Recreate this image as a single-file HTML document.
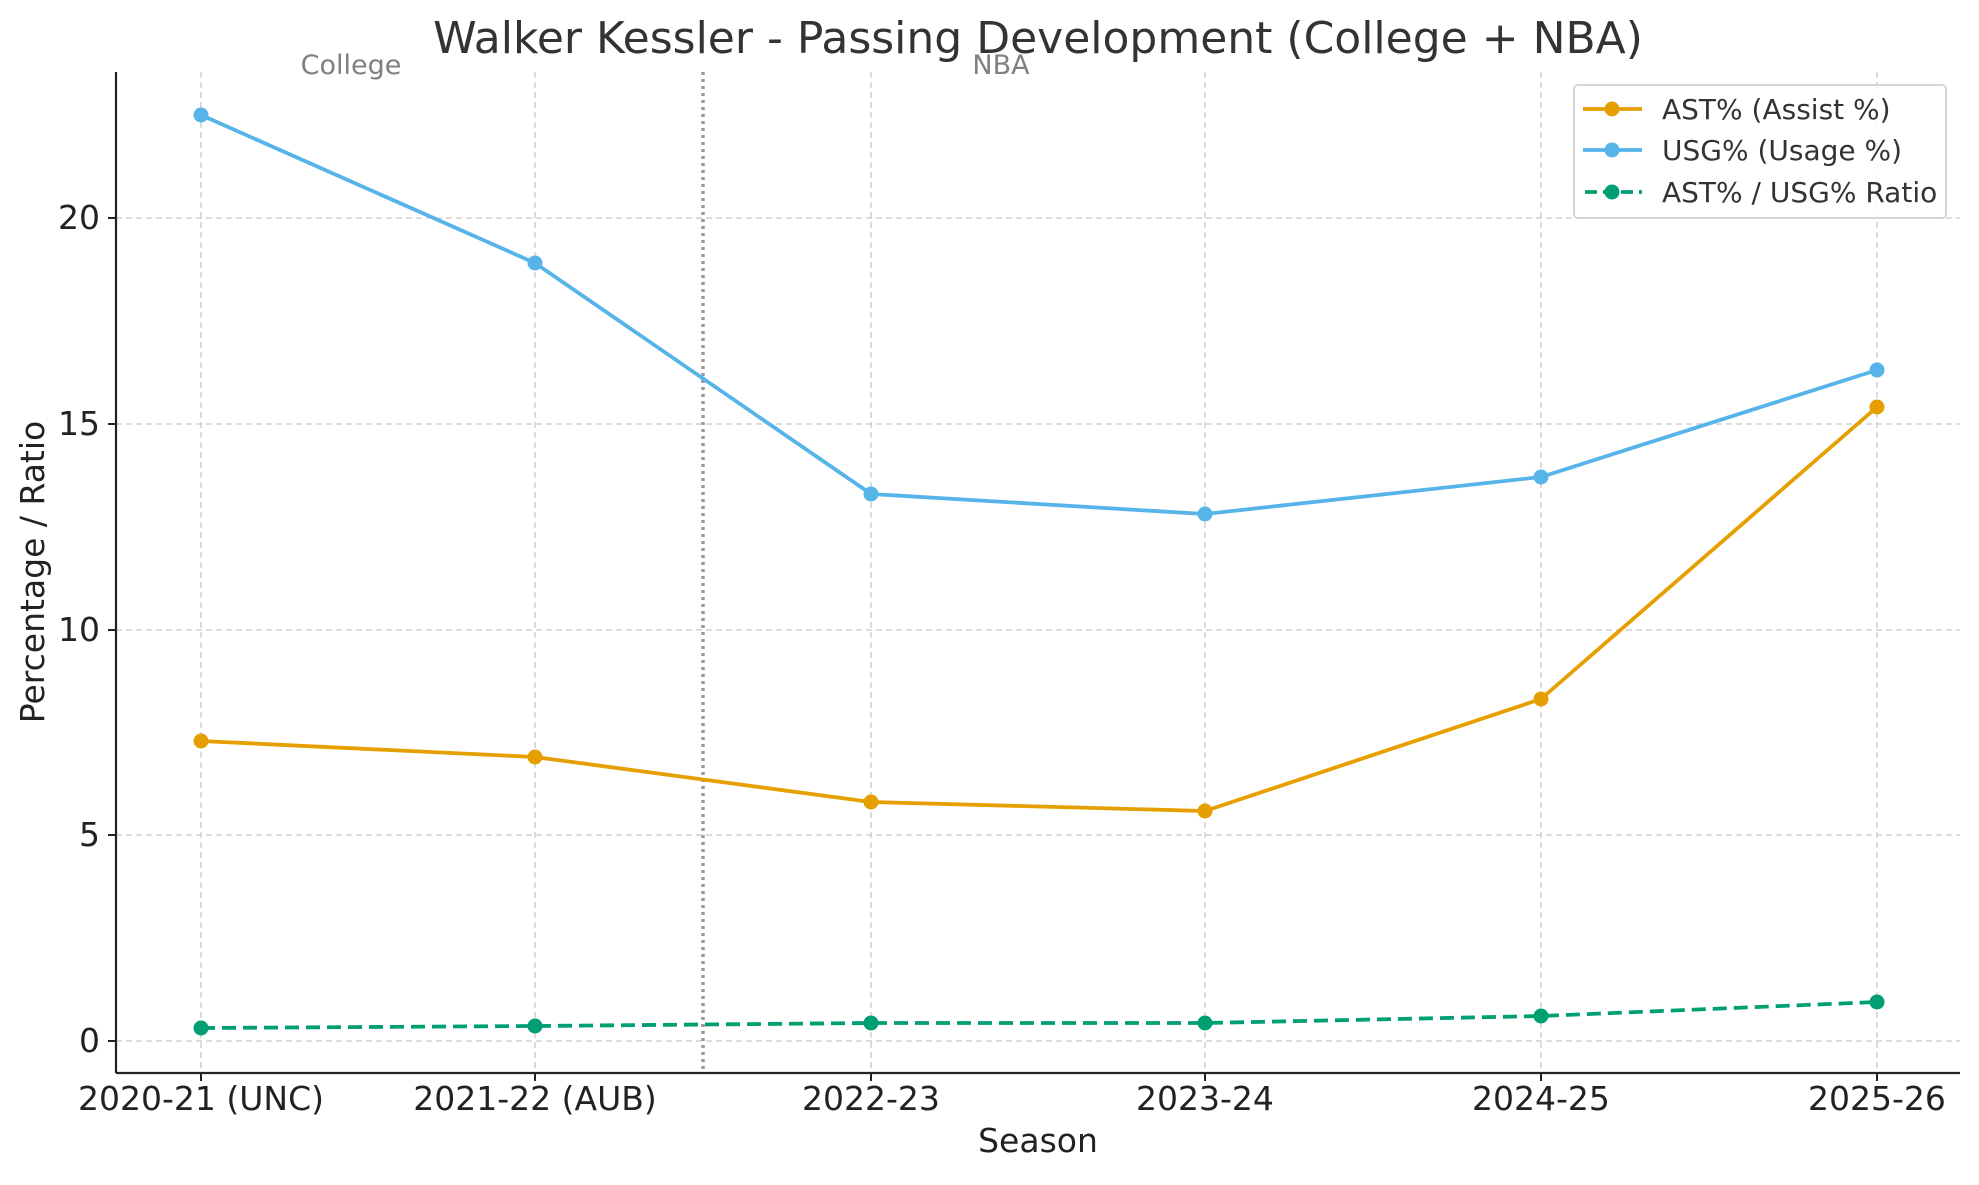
<!DOCTYPE html>
<html><head><meta charset="utf-8"><style>html,body{margin:0;padding:0;background:#fff}</style></head>
<body>
<svg width="1979" height="1180" viewBox="0 0 1979 1180" xmlns="http://www.w3.org/2000/svg" font-family="DejaVu Sans, Liberation Sans, sans-serif">
<rect width="1979" height="1180" fill="#fff"/>
<g stroke="#c8c8c8" stroke-width="1.3" stroke-dasharray="6,4">
<line x1="201" y1="72" x2="201" y2="1073"/><line x1="535" y1="72" x2="535" y2="1073"/><line x1="871" y1="72" x2="871" y2="1073"/><line x1="1205" y1="72" x2="1205" y2="1073"/><line x1="1541" y1="72" x2="1541" y2="1073"/><line x1="1877" y1="72" x2="1877" y2="1073"/>
<line x1="116" y1="1041" x2="1960" y2="1041"/><line x1="116" y1="835" x2="1960" y2="835"/><line x1="116" y1="630" x2="1960" y2="630"/><line x1="116" y1="424" x2="1960" y2="424"/><line x1="116" y1="218" x2="1960" y2="218"/>
</g>
<line x1="703" y1="72" x2="703" y2="1073" stroke="#999" stroke-width="3.5" stroke-dasharray="3,4"/>
<text x="351" y="74" font-size="27" fill="#808080" text-anchor="middle">College</text>
<text x="1001" y="74" font-size="27" fill="#808080" text-anchor="middle">NBA</text>
<polyline fill="none" stroke="#56b4e9" stroke-width="3.8" points="201,115 535,263 871,494 1205,514 1541,477 1877,370"/>
<polyline fill="none" stroke="#e69f00" stroke-width="3.8" points="201,741 535,757 871,802 1205,811 1541,699 1877,407"/>
<polyline fill="none" stroke="#009e73" stroke-width="3.8" stroke-dasharray="14,7" points="201,1028 535,1026 871,1023 1205,1023 1541,1016 1877,1002"/>
<g fill="#56b4e9"><circle cx="201" cy="115" r="7.5"/><circle cx="535" cy="263" r="7.5"/><circle cx="871" cy="494" r="7.5"/><circle cx="1205" cy="514" r="7.5"/><circle cx="1541" cy="477" r="7.5"/><circle cx="1877" cy="370" r="7.5"/></g>
<g fill="#e69f00"><circle cx="201" cy="741" r="7.5"/><circle cx="535" cy="757" r="7.5"/><circle cx="871" cy="802" r="7.5"/><circle cx="1205" cy="811" r="7.5"/><circle cx="1541" cy="699" r="7.5"/><circle cx="1877" cy="407" r="7.5"/></g>
<g fill="#009e73"><circle cx="201" cy="1028" r="7.5"/><circle cx="535" cy="1026" r="7.5"/><circle cx="871" cy="1023" r="7.5"/><circle cx="1205" cy="1023" r="7.5"/><circle cx="1541" cy="1016" r="7.5"/><circle cx="1877" cy="1002" r="7.5"/></g>
<line x1="116" y1="72" x2="116" y2="1073" stroke="#222" stroke-width="2.2"/>
<line x1="116" y1="1073" x2="1960" y2="1073" stroke="#222" stroke-width="2.2"/>
<g stroke="#222" stroke-width="2">
<line x1="108" y1="1041" x2="116" y2="1041"/><line x1="108" y1="835" x2="116" y2="835"/><line x1="108" y1="630" x2="116" y2="630"/><line x1="108" y1="424" x2="116" y2="424"/><line x1="108" y1="218" x2="116" y2="218"/>
<line x1="201" y1="1073" x2="201" y2="1081"/><line x1="535" y1="1073" x2="535" y2="1081"/><line x1="871" y1="1073" x2="871" y2="1081"/><line x1="1205" y1="1073" x2="1205" y2="1081"/><line x1="1541" y1="1073" x2="1541" y2="1081"/><line x1="1877" y1="1073" x2="1877" y2="1081"/>
</g>
<g font-size="33" fill="#222" text-anchor="end">
<text x="100" y="1052">0</text><text x="100" y="846">5</text><text x="100" y="641">10</text><text x="100" y="435">15</text><text x="100" y="229">20</text>
</g>
<g font-size="33" fill="#222" text-anchor="middle">
<text x="201" y="1110">2020-21 (UNC)</text><text x="535" y="1110">2021-22 (AUB)</text><text x="871" y="1110">2022-23</text><text x="1205" y="1110">2023-24</text><text x="1541" y="1110">2024-25</text><text x="1877" y="1110">2025-26</text>
</g>
<text x="1038" y="1152" font-size="33" fill="#222" text-anchor="middle">Season</text>
<text transform="translate(44,572) rotate(-90)" font-size="33" fill="#222" text-anchor="middle">Percentage / Ratio</text>
<text x="1038" y="53" font-size="44" fill="#333" text-anchor="middle">Walker Kessler - Passing Development (College + NBA)</text>
<rect x="1574" y="85" width="372" height="133" rx="4" fill="#fff" fill-opacity="0.85" stroke="#d5d5d5" stroke-width="2"/>
<line x1="1583" y1="109" x2="1642" y2="109" stroke="#e69f00" stroke-width="3.8"/><circle cx="1612" cy="109" r="7.5" fill="#e69f00"/>
<line x1="1583" y1="150" x2="1642" y2="150" stroke="#56b4e9" stroke-width="3.8"/><circle cx="1612" cy="150" r="7.5" fill="#56b4e9"/>
<line x1="1585" y1="192" x2="1642" y2="192" stroke="#009e73" stroke-width="3.8" stroke-dasharray="12,6"/><circle cx="1612" cy="192" r="7.5" fill="#009e73"/>
<g font-size="28" fill="#333">
<text x="1662" y="119">AST% (Assist %)</text><text x="1662" y="160">USG% (Usage %)</text><text x="1662" y="202">AST% / USG% Ratio</text>
</g>
</svg>
</body></html>
